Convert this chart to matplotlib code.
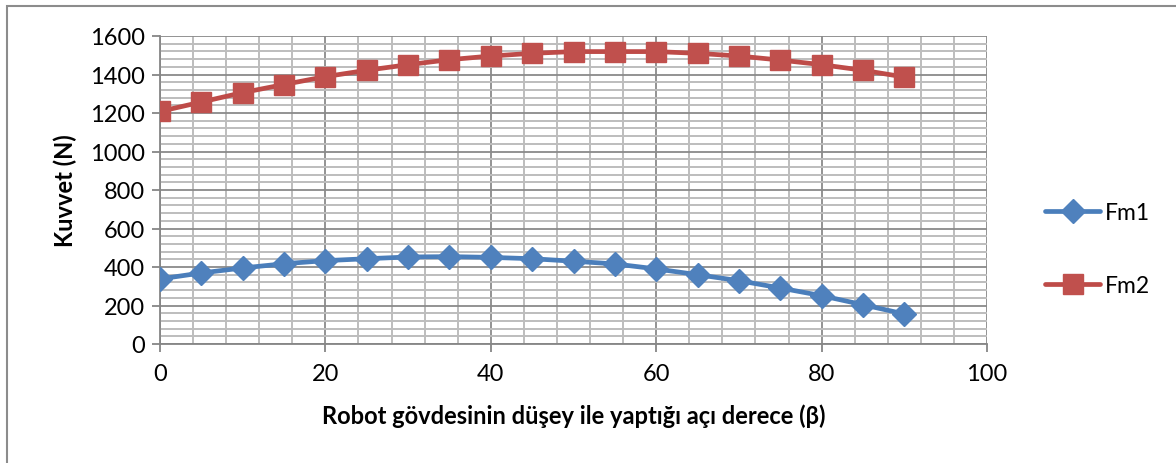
import matplotlib
matplotlib.use("Agg")
import matplotlib.pyplot as plt
from matplotlib.ticker import MultipleLocator
from matplotlib.lines import Line2D

# Robot body angle (degrees) and the two forces
angle = [0, 5, 10, 15, 20, 25, 30, 35, 40, 45, 50, 55, 60, 65, 70, 75, 80, 85, 90]
fm1 = [338, 369, 395, 417, 433, 443, 452, 454, 450, 443, 430, 416, 390, 360, 329, 291, 251, 204, 156]
fm2 = [1208, 1257, 1306, 1348, 1389, 1422, 1451, 1477, 1496, 1510, 1519, 1519, 1519, 1510, 1496, 1475, 1451, 1422, 1387]
series_names = ["Fm1", "Fm2"]

x_label = "Robot gövdesinin düşey ile yaptığı açı derece (β)"
y_label = "Kuvvet (N)"

plt.rcParams["font.family"] = ["Lato", "DejaVu Sans"]

fig = plt.figure(figsize=(11.76, 4.64), dpi=100)
ax = fig.add_axes([160 / 1176, 1 - 345 / 464, (987 - 160) / 1176, (345 - 37) / 464])

# chart frame
fig.patches.append(plt.Rectangle((7 / 1176, -0.1), 1.2, 1 - 7 / 464 + 0.1,
                                 transform=fig.transFigure, fill=False,
                                 edgecolor="#8c8c8c", linewidth=1.5))

blue_line, blue_mk = "#4A7EBB", "#4F81BD"
red_line, red_mk = "#BE4B48", "#C0504D"

ax.plot(angle, fm1, color=blue_line, linewidth=3.4, marker="D", markersize=12.5,
        markerfacecolor=blue_mk, markeredgecolor=blue_mk, zorder=4, solid_capstyle="round")
ax.plot(angle, fm2, color=red_line, linewidth=3.4, marker="s", markersize=14,
        markerfacecolor=red_mk, markeredgecolor=red_mk, zorder=5, solid_capstyle="round")

ax.set_xlim(0, 100)
ax.set_ylim(0, 1600)
ax.xaxis.set_major_locator(MultipleLocator(20))
ax.xaxis.set_minor_locator(MultipleLocator(4))
ax.yaxis.set_major_locator(MultipleLocator(200))
ax.yaxis.set_minor_locator(MultipleLocator(40))

ax.grid(which="minor", color="#bdbdbd", linewidth=1.4, zorder=0)
ax.grid(which="major", color="#8a8a8a", linewidth=1.3, zorder=1)
ax.set_axisbelow(True)

for side in ("top", "right"):
    ax.spines[side].set_visible(False)
for side in ("left", "bottom"):
    ax.spines[side].set_color("#868686")
    ax.spines[side].set_linewidth(1.3)

ax.tick_params(which="major", direction="out", length=6, width=1.3, color="#868686",
               labelsize=17, pad=5)
ax.tick_params(which="minor", length=0)
ax.tick_params(axis="x", pad=8)

ax.set_xlabel(x_label, fontsize=17, fontweight="bold", labelpad=14)
ax.set_ylabel(y_label, fontsize=17, fontweight="bold", labelpad=9)

handles = [
    Line2D([], [], color=blue_line, linewidth=3.4, marker="D", markersize=12.5,
           markerfacecolor=blue_mk, markeredgecolor=blue_mk, solid_capstyle="round"),
    Line2D([], [], color=red_line, linewidth=3.4, marker="s", markersize=14,
           markerfacecolor=red_mk, markeredgecolor=red_mk, solid_capstyle="round"),
]
fig.legend(handles, series_names, loc="center left", bbox_to_anchor=(1045 / 1176, 1 - 250 / 464),
           frameon=False, fontsize=16.5, handlelength=2.4, handletextpad=0.2, labelspacing=2.3,
           borderaxespad=0, borderpad=0)

fig.savefig("out.png", dpi=100, facecolor="white")
